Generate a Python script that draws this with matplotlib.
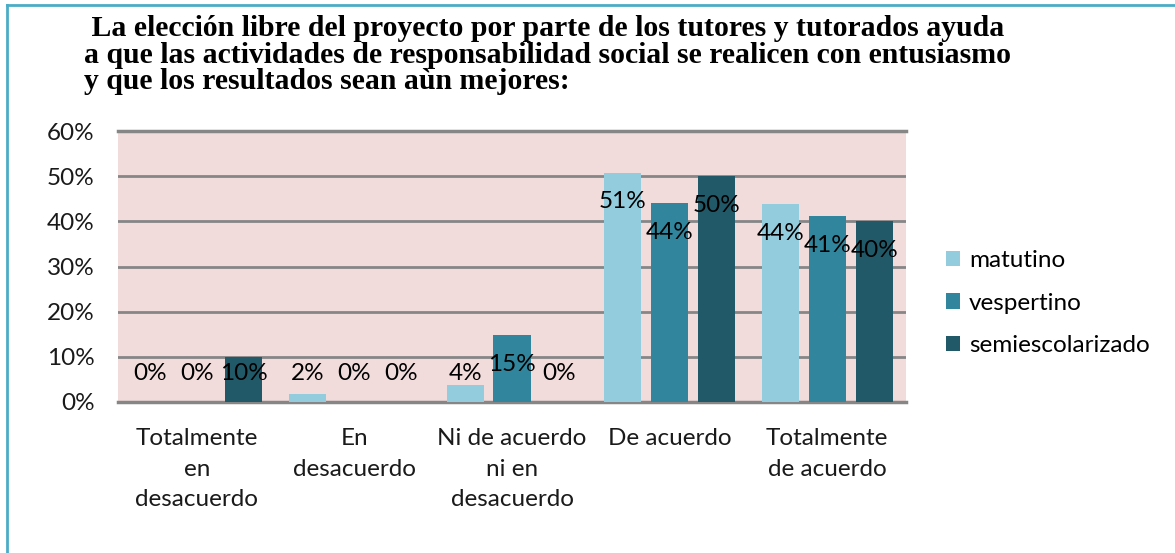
import matplotlib.pyplot as plt
import numpy as np

# ---- data ----
categories = ["Totalmente\nen\ndesacuerdo", "En\ndesacuerdo",
              "Ni de acuerdo\nni en\ndesacuerdo", "De acuerdo",
              "Totalmente\nde acuerdo"]
series = ["matutino", "vespertino", "semiescolarizado"]
matutino = [0, 1.8, 3.7, 50.8, 43.8]
vespertino = [0, 0, 14.8, 44, 41.2]
semiescolarizado = [10, 0, 0, 50, 40]
yticks = [0, 10, 20, 30, 40, 50, 60]

colors = ["#93CDDD", "#31859C", "#215968"]
title = (" La elección libre del proyecto por parte de los tutores y tutorados ayuda\n"
         "a que las actividades de responsabilidad social se realicen con entusiasmo\n"
         "y que los resultados sean aùn mejores:")

plt.rcParams["font.family"] = ["Lato", "DejaVu Sans"]
fs = 17.5

fig = plt.figure(figsize=(11.75, 5.53), dpi=100)
ax = fig.add_axes([118 / 1175, 1 - 402 / 553, 788 / 1175, 271 / 553])
ax.set_facecolor("#F2DCDB")

x = np.arange(len(categories))
width = 0.235
step = 0.298
for i, (name, vals) in enumerate(zip(series, [matutino, vespertino, semiescolarizado])):
    pos = x + (i - 1) * step
    ax.bar(pos, vals, width, color=colors[i], label=name, zorder=3)
    for px, v in zip(pos, vals):
        ly = max(v - 6.5, 6.4)
        ax.text(px, ly, f"{v:.0f}%", ha="center", va="center",
                fontsize=fs, color="black", zorder=4)

ax.set_xlim(-0.5, len(categories) - 0.5)
ax.set_ylim(0, 60)
ax.set_yticks(yticks)
ax.set_yticklabels([f"{t}%" for t in yticks], fontsize=fs)
ax.set_xticks(x)
ax.set_xticklabels(categories, fontsize=fs, linespacing=1.56, va="top")
ax.tick_params(axis="both", length=0, colors="#1a1a1a")
ax.tick_params(axis="y", pad=17)
ax.tick_params(axis="x", pad=19)
for s in ax.spines.values():
    s.set_visible(False)
ax.yaxis.grid(True, color="#868686", linewidth=2, zorder=1)
ax.set_axisbelow(True)
for yv in (0, 60):
    ax.axhline(yv, color="#868686", linewidth=2.5, zorder=2, clip_on=False)

leg = fig.legend(loc="upper left", bbox_to_anchor=(924 / 1175, 1 - 228 / 553),
                 frameon=False, fontsize=fs, handlelength=0.6, handleheight=0.6,
                 handletextpad=0.35, labelspacing=0.89)

fig.text(84 / 1175, 1 - 15 / 553, title, ha="left", va="top", fontsize=21.4,
         fontweight="bold", family="Liberation Serif", linespacing=0.98)

# outer frame (left and top edges only)
fig.add_artist(plt.Line2D([6.5 / 1175, 6.5 / 1175], [0, 1 - 5 / 553],
                          transform=fig.transFigure, color="#4BACC6", linewidth=2))
fig.add_artist(plt.Line2D([6.5 / 1175, 1], [1 - 5 / 553, 1 - 5 / 553],
                          transform=fig.transFigure, color="#4BACC6", linewidth=2))

fig.savefig("out.png", dpi=100)
